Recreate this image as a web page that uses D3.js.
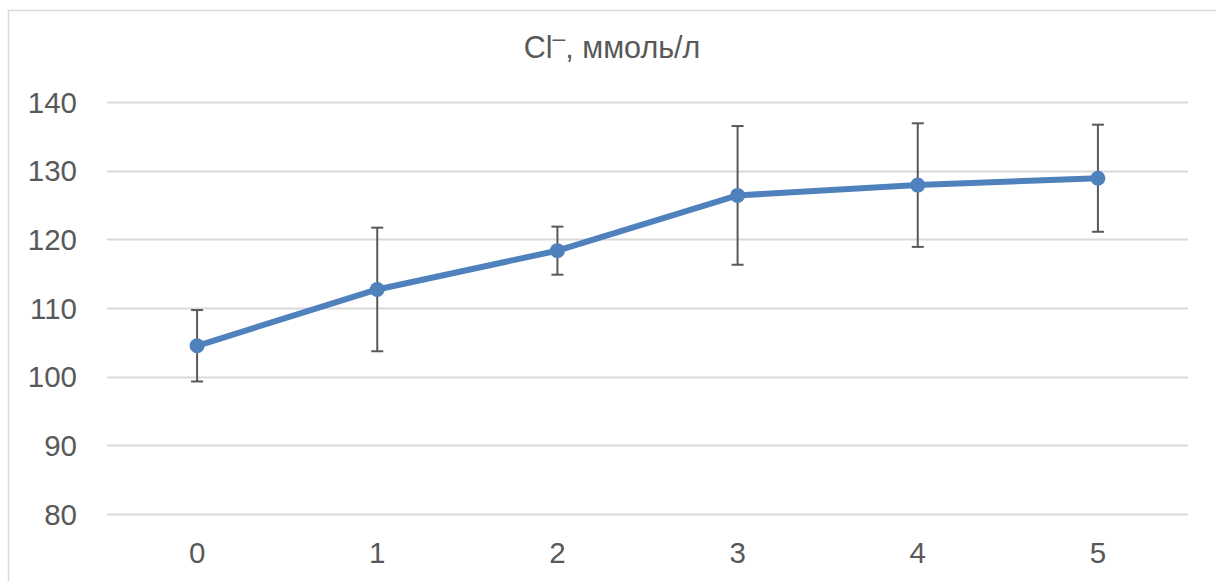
<!DOCTYPE html>
<html><head><meta charset="utf-8">
<script src="https://cdn.jsdelivr.net/npm/d3@7"></script>
<style>body{margin:0;background:#fff}svg{display:block}</style>
</head><body><div id="c"></div>
<script>
const categories = ["0","1","2","3","4","5"];
const values = [104.5, 112.7, 118.35, 126.4, 127.9, 128.9];
const errors = [5.2, 9.0, 3.5, 10.1, 9.0, 7.8];
const yTicks = [80, 90, 100, 110, 120, 130, 140];
const titleMain = "Cl";
const titleSup = "\u2013";
const titleRest = ", ммоль/л";

const W = 1216, H = 581;
const svg = d3.select("#c").append("svg").attr("width", W).attr("height", H);
svg.append("rect").attr("x",8.5).attr("y",10.5).attr("width",1300).attr("height",700)
  .attr("fill","#fff").attr("stroke","#d9d9d9").attr("stroke-width",1.5);

const x = d3.scaleBand().domain(categories).range([107, 1188]);
const y = d3.scaleLinear().domain([80, 140]).range([514, 102]);

const font = "'Liberation Sans', Arial, sans-serif";
const textCol = "#595959";

svg.append("g").selectAll("line").data(yTicks).join("line")
  .attr("x1", 107).attr("x2", 1188)
  .attr("y1", d => Math.round(y(d)) + 0.5).attr("y2", d => Math.round(y(d)) + 0.5)
  .attr("stroke", "#d9d9d9").attr("stroke-width", 2);

const yAxis = d3.axisLeft(y).tickValues(yTicks).tickSize(0).tickPadding(30);
const gy = svg.append("g").attr("transform", "translate(107,0)").call(yAxis);
gy.select(".domain").remove();
gy.selectAll("text").attr("font-family", font).attr("font-size", 29.5).attr("fill", textCol).attr("dy","0.35em");

const xAxis = d3.axisBottom(x).tickSize(0).tickPadding(28);
const gx = svg.append("g").attr("transform", "translate(0,514)").call(xAxis);
gx.select(".domain").remove();
gx.selectAll("text").attr("font-family", font).attr("font-size", 29.5).attr("fill", textCol);

const cx = d => x(d) + x.bandwidth()/2;
const data = categories.map((c,i) => ({c, v: values[i], e: errors[i]}));

const eb = svg.append("g").attr("stroke", "#595959").attr("stroke-width", 2);
data.forEach(d => {
  const X = cx(d.c);
  eb.append("line").attr("x1", X).attr("x2", X).attr("y1", y(d.v + d.e)).attr("y2", y(d.v - d.e));
  eb.append("line").attr("x1", X-6).attr("x2", X+6).attr("y1", y(d.v + d.e)).attr("y2", y(d.v + d.e));
  eb.append("line").attr("x1", X-6).attr("x2", X+6).attr("y1", y(d.v - d.e)).attr("y2", y(d.v - d.e));
});

svg.append("path").datum(data)
  .attr("d", d3.line().x(d => cx(d.c)).y(d => y(d.v)))
  .attr("fill", "none").attr("stroke", "#4f81bd").attr("stroke-width", 6).attr("stroke-linejoin","round");

svg.append("g").selectAll("circle").data(data).join("circle")
  .attr("cx", d => cx(d.c)).attr("cy", d => y(d.v)).attr("r", 7.5)
  .attr("fill", "#4f81bd");

const t = svg.append("text").attr("x", 612).attr("y", 58).attr("text-anchor","middle")
  .attr("font-family", font).attr("font-size", 30.5).attr("fill", textCol);
t.append("tspan").text(titleMain);
t.append("tspan").attr("dy", -12).attr("font-size", 23).text(titleSup);
t.append("tspan").attr("dy", 12).text(titleRest);
</script></body></html>
